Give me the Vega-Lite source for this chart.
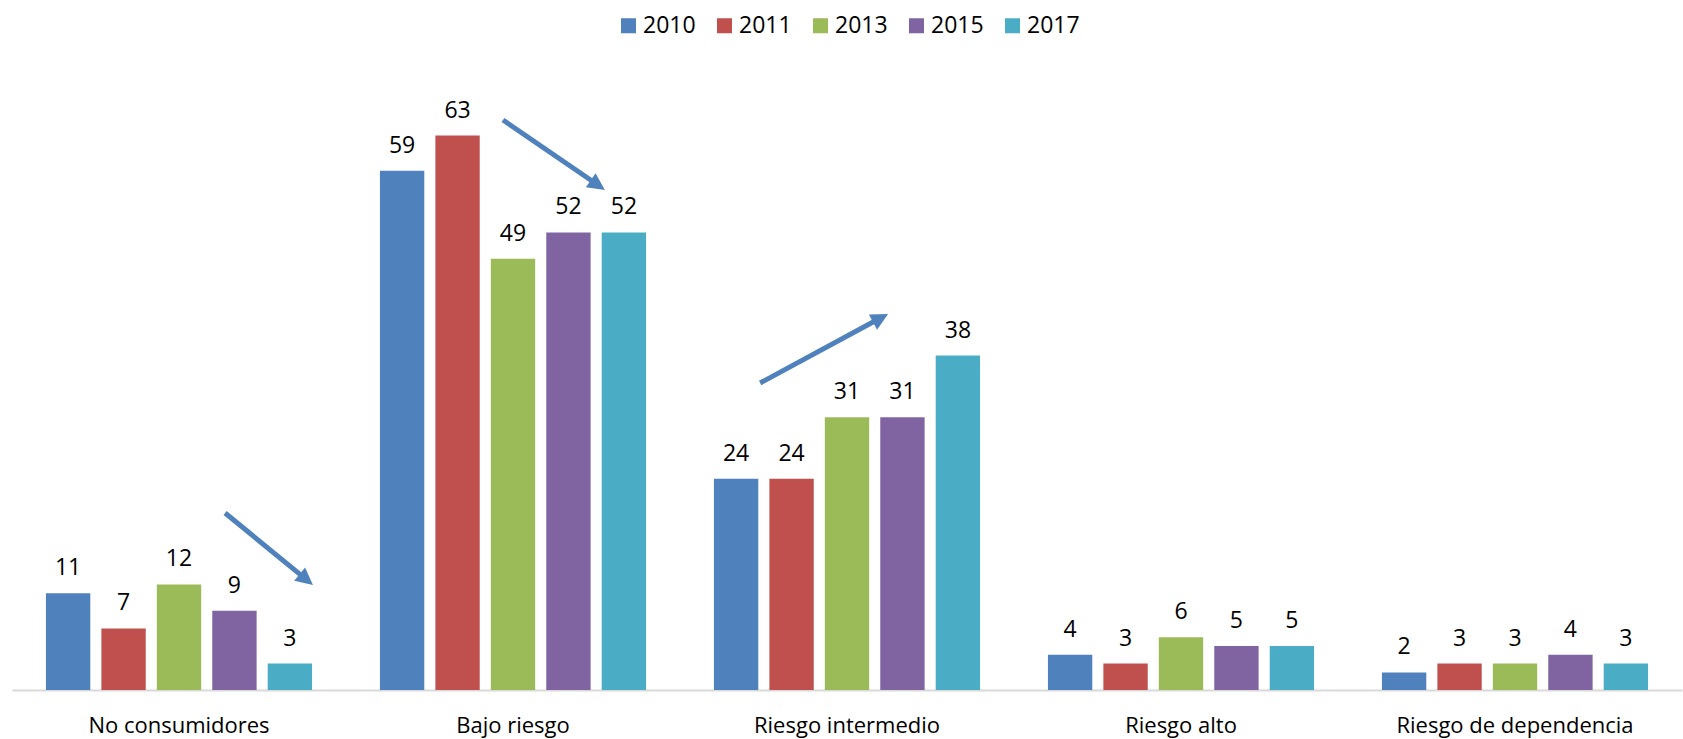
{
  "$schema": "https://vega.github.io/schema/vega-lite/v6.json",
  "width": 1670,
  "height": 616,
  "autosize": {"type": "none"},
  "padding": {"left": 12, "top": 74, "right": 1, "bottom": 49},
  "background": "white",
  "config": {"view": {"stroke": null}, "font": "Open Sans"},
  "datasets": {
    "bars": [
      {"cat": "No consumidores", "year": "2010", "value": 11},
      {"cat": "No consumidores", "year": "2011", "value": 7},
      {"cat": "No consumidores", "year": "2013", "value": 12},
      {"cat": "No consumidores", "year": "2015", "value": 9},
      {"cat": "No consumidores", "year": "2017", "value": 3},
      {"cat": "Bajo riesgo", "year": "2010", "value": 59},
      {"cat": "Bajo riesgo", "year": "2011", "value": 63},
      {"cat": "Bajo riesgo", "year": "2013", "value": 49},
      {"cat": "Bajo riesgo", "year": "2015", "value": 52},
      {"cat": "Bajo riesgo", "year": "2017", "value": 52},
      {"cat": "Riesgo intermedio", "year": "2010", "value": 24},
      {"cat": "Riesgo intermedio", "year": "2011", "value": 24},
      {"cat": "Riesgo intermedio", "year": "2013", "value": 31},
      {"cat": "Riesgo intermedio", "year": "2015", "value": 31},
      {"cat": "Riesgo intermedio", "year": "2017", "value": 38},
      {"cat": "Riesgo alto", "year": "2010", "value": 4},
      {"cat": "Riesgo alto", "year": "2011", "value": 3},
      {"cat": "Riesgo alto", "year": "2013", "value": 6},
      {"cat": "Riesgo alto", "year": "2015", "value": 5},
      {"cat": "Riesgo alto", "year": "2017", "value": 5},
      {"cat": "Riesgo de dependencia", "year": "2010", "value": 2},
      {"cat": "Riesgo de dependencia", "year": "2011", "value": 3},
      {"cat": "Riesgo de dependencia", "year": "2013", "value": 3},
      {"cat": "Riesgo de dependencia", "year": "2015", "value": 4},
      {"cat": "Riesgo de dependencia", "year": "2017", "value": 3}
    ],
    "arrows": [
      {"x0": 0.638, "y0": 20.11, "x1": 0.878, "y1": 12.65, "xt": 0.901, "yt": 11.93, "angle": 129.3},
      {"x0": 1.470, "y0": 64.77, "x1": 1.751, "y1": 57.47, "xt": 1.775, "yt": 56.82, "angle": 124.5},
      {"x0": 2.240, "y0": 34.89, "x1": 2.596, "y1": 42.19, "xt": 2.623, "yt": 42.73, "angle": 61.7}
    ]
  },
  "layer": [
    {
      "data": {"name": "bars"},
      "encoding": {
        "x": {
          "field": "cat", "type": "nominal", "sort": null,
          "scale": {"paddingInner": 0.17, "paddingOuter": 0.085},
          "axis": {
            "title": null, "labelAngle": 0, "labelFontSize": 22, "labelColor": "#000000",
            "labelFont": "Open Sans", "labelPadding": 25, "labelLimit": 0, "ticks": false,
            "domainColor": "#D9D9D9", "domainWidth": 2, "grid": false
          }
        },
        "xOffset": {"field": "year", "type": "nominal", "scale": {"paddingInner": 0.2, "paddingOuter": 0.1}},
        "y": {"field": "value", "type": "quantitative", "scale": {"domain": [0, 70], "nice": false}, "axis": null}
      },
      "layer": [
        {
          "mark": {"type": "bar"},
          "encoding": {
            "color": {
              "field": "year", "type": "nominal",
              "scale": {"domain": ["2010", "2011", "2013", "2015", "2017"], "range": ["#4F81BD", "#C0504D", "#9BBB59", "#8064A2", "#4BACC6"]},
              "legend": {
                "title": null, "orient": "none", "legendX": 605, "legendY": -60,
                "direction": "horizontal", "columns": 5, "symbolType": "square", "symbolSize": 225,
                "symbolStrokeWidth": 0, "labelFontSize": 23, "labelFont": "Open Sans", "labelColor": "#000000",
                "labelOffset": 3, "columnPadding": 17, "padding": 0
              }
            }
          }
        },
        {
          "mark": {"type": "text", "baseline": "alphabetic", "dy": -18, "fontSize": 23, "font": "Open Sans", "color": "#000000"},
          "encoding": {"text": {"field": "value", "type": "quantitative"}}
        }
      ]
    },
    {
      "data": {"name": "arrows"},
      "layer": [
        {
          "mark": {"type": "rule", "color": "#4F81BD", "strokeWidth": 5, "strokeCap": "butt"},
          "encoding": {
            "x": {"field": "x0", "type": "quantitative", "scale": {"domain": [0, 5], "nice": false}, "axis": null},
            "y": {"field": "y0", "type": "quantitative", "scale": {"domain": [0, 70], "nice": false}, "axis": null},
            "x2": {"field": "x1"},
            "y2": {"field": "y1"}
          }
        },
        {
          "mark": {"type": "point", "shape": "M0,0L-0.8,1.6L0.8,1.6Z", "filled": true, "color": "#4F81BD", "size": 460, "opacity": 1, "strokeWidth": 0},
          "encoding": {
            "x": {"field": "xt", "type": "quantitative", "scale": {"domain": [0, 5], "nice": false}, "axis": null},
            "y": {"field": "yt", "type": "quantitative", "scale": {"domain": [0, 70], "nice": false}, "axis": null},
            "angle": {"field": "angle", "type": "quantitative", "scale": null}
          }
        }
      ]
    }
  ],
  "resolve": {"scale": {"x": "independent"}}
}
